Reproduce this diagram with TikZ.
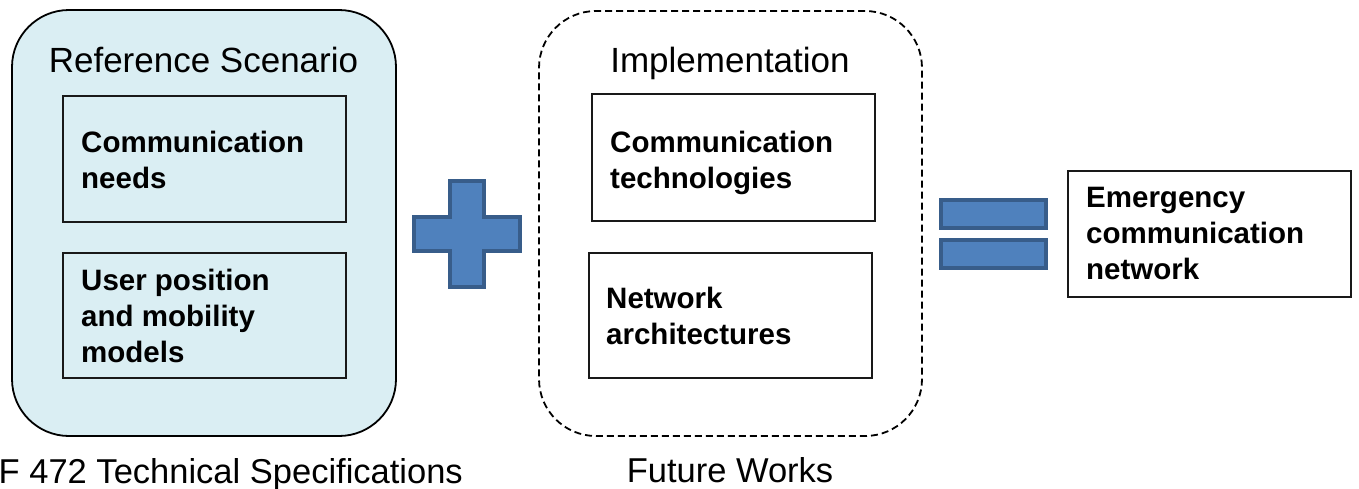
\documentclass[tikz,border=0pt]{standalone}
\usepackage{fontspec}
\setmainfont{Liberation Sans}
\definecolor{paleblue}{HTML}{DAEEF3}
\definecolor{signfill}{HTML}{4F81BD}
\definecolor{signedge}{HTML}{385D8A}
\begin{document}
\begin{tikzpicture}[x=1pt,y=-1pt,
  group/.style={draw=black, line width=1.8pt, rounded corners=57pt, inner sep=0pt},
  item/.style={draw=black!90, line width=1.8pt, minimum width=283pt, inner sep=0pt},
  heading/.style={inner sep=0pt, anchor=base, font=\fontsize{35}{42}\selectfont},
  caption/.style={inner sep=0pt, anchor=base, font=\fontsize{34.5}{42}\selectfont},
  itemtext/.style={inner sep=0pt, anchor=base west, font=\bfseries\fontsize{29.5}{36}\selectfont},
  sign/.style={fill=signfill, draw=signedge, line width=4pt}]
\useasboundingbox (0,0) rectangle (1359,488);

% left group: reference scenario
\node[group, fill=paleblue, minimum width=384pt, minimum height=426pt] (scenario) at (204,223) {};
\node[heading] (scenariotitle) at (203.5,72) {Reference Scenario};
\node[item, minimum height=126pt] (needsbox) at (204.5,159) {};
\node[itemtext] (needs) at (81,152) {\parbox[t]{260pt}{Communication\\needs}};
\node[item, minimum height=125pt] (mobilitybox) at (204.5,315.5) {};
\node[itemtext] (mobility) at (81,290) {\parbox[t]{260pt}{User position\\and mobility\\models}};
\node[caption, anchor=base east] (spec) at (463,483) {F 472 Technical Specifications};

% plus sign
\draw[sign] (450,181) -- (484,181) -- (484,217) -- (520,217) -- (520,251)
  -- (484,251) -- (484,287) -- (450,287) -- (450,251) -- (414,251)
  -- (414,217) -- (450,217) -- cycle;

% middle group: implementation
\node[group, dashed, dash pattern=on 7pt off 4pt, minimum width=383pt, minimum height=425pt] (impl) at (730.5,223.5) {};
\node[heading] (impltitle) at (730,72) {Implementation};
\node[item, minimum height=127pt] (techbox) at (733.5,157.5) {};
\node[itemtext] (tech) at (610,152) {\parbox[t]{250pt}{Communication\\technologies}};
\node[item, minimum height=125pt] (archbox) at (730.5,315.5) {};
\node[itemtext] (arch) at (606,308) {\parbox[t]{250pt}{Network\\architectures}};
\node[caption] (future) at (730,482) {Future Works};

% equals sign
\draw[sign] (941,200) rectangle (1046,228);
\draw[sign] (941,240) rectangle (1046,268);

% result
\node[item, minimum height=126pt] (resultbox) at (1209.5,234) {};
\node[itemtext] (result) at (1086,207) {\parbox[t]{250pt}{Emergency\\communication\\network}};
\end{tikzpicture}
\end{document}
